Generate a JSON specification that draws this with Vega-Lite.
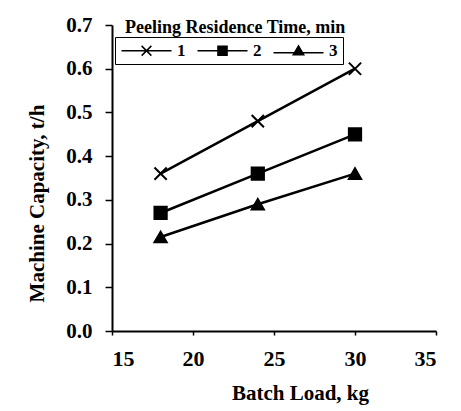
{
  "$schema": "https://vega.github.io/schema/vega-lite/v6.json",
  "width": 324,
  "height": 306,
  "autosize": {"type": "none"},
  "padding": {"left": 112, "top": 25, "right": 25, "bottom": 80},
  "background": "white",
  "config": {
    "view": {"stroke": null},
    "font": "Liberation Serif",
    "axis": {
      "grid": false,
      "domainColor": "black",
      "domainWidth": 2,
      "tickColor": "black",
      "tickWidth": 1.5,
      "labelFont": "Liberation Serif",
      "labelFontWeight": "bold",
      "labelColor": "black",
      "titleFont": "Liberation Serif",
      "titleFontWeight": "bold",
      "titleColor": "black",
      "titleFontSize": 21
    }
  },
  "title": {
    "text": "Peeling Residence Time, min",
    "anchor": "start",
    "frame": "group",
    "font": "Liberation Serif",
    "fontSize": 18,
    "fontWeight": "bold",
    "color": "black",
    "offset": -23,
    "dx": 13
  },
  "data": {
    "values": [
      {"load": 18, "capacity": 0.36, "series": "1"},
      {"load": 24, "capacity": 0.48, "series": "1"},
      {"load": 30, "capacity": 0.60, "series": "1"},
      {"load": 18, "capacity": 0.27, "series": "2"},
      {"load": 24, "capacity": 0.36, "series": "2"},
      {"load": 30, "capacity": 0.45, "series": "2"},
      {"load": 18, "capacity": 0.215, "series": "3"},
      {"load": 24, "capacity": 0.29, "series": "3"},
      {"load": 30, "capacity": 0.36, "series": "3"}
    ]
  },
  "encoding": {
    "x": {
      "field": "load",
      "type": "quantitative",
      "scale": {"domain": [15, 35], "nice": false, "zero": false},
      "axis": {
        "values": [15, 20, 25, 30, 35],
        "title": "Batch Load, kg",
        "tickSize": 4,
        "labelFontSize": 22,
        "labelPadding": 13,
        "titleX": 188,
        "titleY": 62,
        "titleBaseline": "middle"
      }
    },
    "y": {
      "field": "capacity",
      "type": "quantitative",
      "scale": {"domain": [0, 0.7], "nice": false},
      "axis": {
        "values": [0, 0.1, 0.2, 0.3, 0.4, 0.5, 0.6, 0.7],
        "format": ".1f",
        "title": "Machine Capacity, t/h",
        "tickSize": 7,
        "labelFontSize": 21,
        "labelPadding": 13,
        "titleX": -75,
        "titleY": 178,
        "titleAngle": 270,
        "titleBaseline": "middle",
        "titleAlign": "center"
      }
    }
  },
  "layer": [
    {
      "mark": {"type": "line", "strokeWidth": 2.5, "color": "black"},
      "encoding": {
        "detail": {"field": "series", "type": "nominal"}
      }
    },
    {
      "mark": {"type": "point", "filled": true, "size": 150, "opacity": 1, "stroke": "black", "strokeWidth": 2, "fill": "black"},
      "encoding": {
        "shape": {
          "field": "series",
          "type": "nominal",
          "scale": {"range": ["M-1,-1L1,1M-1,1L1,-1", "square", "triangle-up"]},
          "legend": null
        }
      }
    },
    {
      "mark": {"type": "point", "filled": true, "size": 169, "opacity": 0, "stroke": "black", "strokeWidth": 1.5, "fill": "black"},
      "encoding": {
        "shape": {
          "field": "series",
          "type": "nominal",
          "scale": {"range": [
            "M-3.85,0L3.85,0M-0.75,-0.75L0.75,0.75M-0.75,0.75L0.75,-0.75",
            "M-3.85,0L-0.7,0M0.7,0L3.85,0M-0.7,-0.7L0.7,-0.7L0.7,0.7L-0.7,0.7Z",
            "M-3.85,0.3L3.85,0.3M0,-0.75L0.8,0.6L-0.8,0.6Z"
          ]},
          "legend": {
            "orient": "none",
            "legendX": 3,
            "legendY": 12,
            "direction": "horizontal",
            "title": null,
            "symbolSize": 169,
            "symbolOffset": 18,
            "labelOffset": 22,
            "labelFont": "Liberation Serif",
            "labelFontWeight": "bold",
            "labelFontSize": 17,
            "labelColor": "black",
            "columnPadding": 8,
            "padding": 5,
            "strokeColor": "black",
            "fillColor": "white",
            "encode": {
              "symbols": {
                "update": {
                  "opacity": {"value": 1},
                  "fill": {"value": "black"},
                  "fillOpacity": {"value": 1},
                  "stroke": {"value": "black"},
                  "strokeOpacity": {"value": 1},
                  "strokeWidth": {"value": 1.5}
                }
              }
            }
          }
        }
      }
    }
  ],
  "resolve": {"scale": {"shape": "independent"}}
}
